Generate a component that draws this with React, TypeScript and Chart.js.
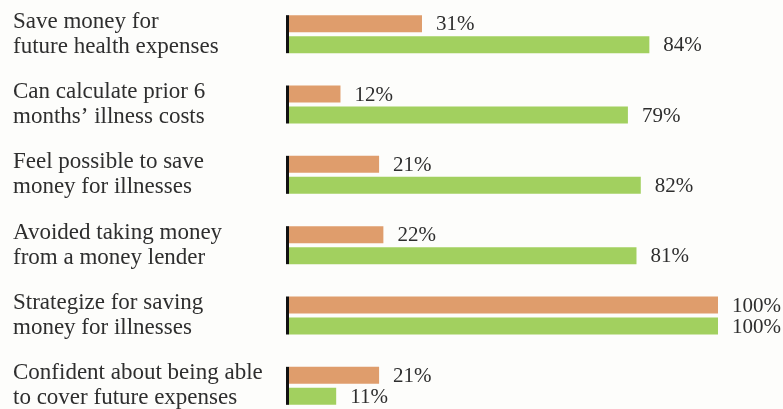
import React, { useEffect, useRef } from "react";
import { Chart, registerables } from "chart.js";

Chart.register(...registerables);

const categories: string[][] = [
  ["Save money for", "future health expenses"],
  ["Can calculate prior 6", "months’ illness costs"],
  ["Feel possible to save", "money for illnesses"],
  ["Avoided taking money", "from a money lender"],
  ["Strategize for saving", "money for illnesses"],
  ["Confident about being able", "to cover future expenses"],
];
const orangeValues = [31, 12, 21, 22, 100, 21];
const greenValues = [84, 79, 82, 81, 100, 11];

const ORANGE = "#DF9D6C";
const GREEN = "#A2D05F";
const TEXT = "#2e2e2e";
const FONT = "'Liberation Serif', 'DejaVu Serif', serif";

const axisSegments = {
  id: "axisSegments",
  afterDatasetsDraw(chart: any) {
    const ctx = chart.ctx;
    const m0 = chart.getDatasetMeta(0);
    const m1 = chart.getDatasetMeta(1);
    const x0 = chart.scales.x.getPixelForValue(0);
    ctx.save();
    ctx.strokeStyle = "#111";
    ctx.lineWidth = 3;
    m0.data.forEach((el: any, i: number) => {
      const g = m1.data[i];
      const top = el.y - el.height / 2;
      const bottom = g.y + g.height / 2;
      ctx.beginPath();
      ctx.moveTo(x0 - 1.5, top);
      ctx.lineTo(x0 - 1.5, bottom);
      ctx.stroke();
    });
    ctx.restore();
  },
};

const valueLabels = {
  id: "valueLabels",
  afterDatasetsDraw(chart: any) {
    const ctx = chart.ctx;
    ctx.save();
    ctx.font = `21px ${FONT}`;
    ctx.fillStyle = TEXT;
    ctx.textAlign = "left";
    ctx.textBaseline = "middle";
    chart.data.datasets.forEach((ds: any, di: number) => {
      const meta = chart.getDatasetMeta(di);
      meta.data.forEach((el: any, i: number) => {
        ctx.fillText(`${ds.data[i]}%`, el.x + 14, el.y + 1);
      });
    });
    ctx.restore();
  },
};

export default function App() {
  const ref = useRef<HTMLCanvasElement>(null);
  useEffect(() => {
    if (!ref.current) return;
    const chart = new Chart(ref.current, {
      type: "bar",
      data: {
        labels: categories,
        datasets: [
          {
            data: orangeValues,
            backgroundColor: ORANGE,
            categoryPercentage: 0.597,
            barPercentage: 0.81,
          },
          {
            data: greenValues,
            backgroundColor: GREEN,
            categoryPercentage: 0.597,
            barPercentage: 0.81,
          },
        ],
      },
      options: {
        indexAxis: "y",
        animation: false,
        responsive: true,
        maintainAspectRatio: false,
        layout: { padding: { left: 13, right: 65, top: 0, bottom: 0 } },
        plugins: {
          legend: { display: false },
          tooltip: { enabled: false },
        },
        scales: {
          x: {
            display: false,
            min: 0,
            max: 100,
          },
          y: {
            grid: { display: false },
            border: { display: false },
            afterFit: (scale: any) => {
              scale.width = 276;
              scale.paddingTop = 0;
              scale.paddingBottom = 0;
            },
            ticks: {
              crossAlign: "far",
              color: TEXT,
              font: { family: FONT, size: 23, lineHeight: 1.08 },
              padding: 0,
            },
          },
        },
      },
      plugins: [axisSegments, valueLabels],
    });
    return () => chart.destroy();
  }, []);

  return (
    <div
      style={{
        position: "fixed",
        left: 0,
        top: 0,
        width: 783,
        height: 409,
        overflow: "hidden",
        background: "#fdfdfb",
      }}
    >
      <div style={{ position: "absolute", left: 0, top: -1, width: 783, height: 422 }}>
        <canvas ref={ref} />
      </div>
    </div>
  );
}
